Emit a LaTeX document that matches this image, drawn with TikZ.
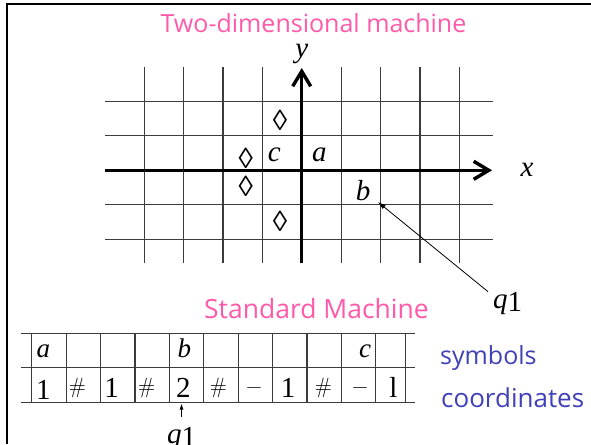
\documentclass[tikz,border=0pt]{standalone}
\usepackage{fontspec}
\setmainfont{Liberation Serif}
\newfontfamily\comicfont{Open Sans}
\newfontfamily\lmfont{Latin Modern Roman}
\usetikzlibrary{arrows.meta}
\definecolor{MachPink}{RGB}{255,90,170}
\definecolor{MachBlue}{RGB}{64,64,184}
\definecolor{LineGray}{RGB}{60,60,60}
\newcommand{\qsub}{\textit{q}\raisebox{-3pt}{1}}

\begin{document}
\begin{tikzpicture}[x=1pt,y=-1pt,heading/.style={text=MachPink,font=\comicfont\fontsize{25}{28}\selectfont,inner sep=0pt,anchor=base},legend/.style={text=MachBlue,font=\comicfont\fontsize{25}{28}\selectfont,inner sep=0pt,anchor=base west},glyph/.style={font=\fontsize{29}{32}\selectfont,inner sep=0pt,anchor=base},ital/.style={glyph,font=\fontsize{29}{32}\selectfont\itshape},small/.style={font=\lmfont\fontsize{22}{24}\selectfont,inner sep=0pt,anchor=base},tapesym/.style={small,font=\fontsize{27}{28}\selectfont\itshape},gridline/.style={draw=LineGray,line width=1.2pt},axis/.style={line width=3.4pt,-{Straight Barb[length=15pt,width=18pt]}},ptr/.style={-{Latex[length=8pt,width=5pt]},line width=0.8pt}]
\clip (0,0) rectangle (591,444);
\fill[white] (0,0) rectangle (591,444);
\draw[line width=2pt](6.5,444)--(6.5,3.8)--(591,3.8);
% two-dimensional tape
\node[heading](title) at (313.5,32.3){Two-dimensional machine};
\foreach \k in {-4,-3,-2,-1,1,2,3,4}{\draw[gridline]({301.7+\k*39.4},66.7)--({301.7+\k*39.4},263);}
\foreach \j in {-2,-1,1,2}{\draw[gridline](105,{170.3+\j*34.5})--(493,{170.3+\j*34.5});}
\coordinate (xl) at (105,170.3);
\coordinate (xr) at (492,170.3);
\coordinate (yb) at (301.7,263);
\coordinate (yt) at (301.7,68);
\draw[axis](xl)--(xr);
\draw[axis](yb)--(yt);
\node[ital](xlab) at (527,176){x};
\node[ital](ylab) at (301.7,58){y};
\foreach \x/\y [count=\i] in {280/120,245.7/158.3,245.7/186.7,280/221.7}{\node[glyph,anchor=center](loz\i) at (\x,\y){◊};}
\node[ital](c) at (274.3,161){c};
\node[ital](a) at (319.3,161.5){a};
\node[ital](b) at (363,200.5){b};
\node[glyph,anchor=base west](qr) at (493,308){\qsub};
\draw[ptr]([xshift=-5pt]qr.north west)--([shift={(7.5pt,-1pt)}]b.south east);
% standard tape
\node[heading,font=\comicfont\fontsize{26.5}{28}\selectfont](std) at (316.5,318){Standard Machine};
\foreach \r in {333.3,367.7,402.3}{\draw[gridline](20.7,\r)--(415,\r);}
\foreach \c in {31.7,66.1,100.5,134.9,169.3,203.7,238.1,272.5,306.9,341.3,375.7,405.3}{\draw[gridline](\c,333.3)--(\c,402.3);}
\node[tapesym](ta) at (43.3,357){a};
\node[tapesym](tb) at (184.3,357){b};
\node[tapesym](tc) at (365,357){c};
\foreach \x/\s/\st/\yb [count=\i] in {43.3/1/glyph/399,77.3/\#/small/393,111.7/1/glyph/397,146.7/\#/small/393,183.3/2/glyph/397,218.3/\#/small/393,254/−/small/393,288/1/glyph/397,323.3/\#/small/393,360/−/small/393,393.3/l/glyph/397}{\node[\st](v\i) at (\x,\yb){\s};}
\node[legend](sym) at (440,364){symbols};
\node[legend,font=\comicfont\fontsize{26}{28}\selectfont](coord) at (441,407){coordinates};
\coordinate (head) at (181.5,403.5);
\node[glyph](qb) at (181.5,443){\qsub};
\draw[ptr,-{Latex[length=6pt,width=4pt]}]([yshift=10pt]qb.north)--(head);
\end{tikzpicture}
\end{document}
